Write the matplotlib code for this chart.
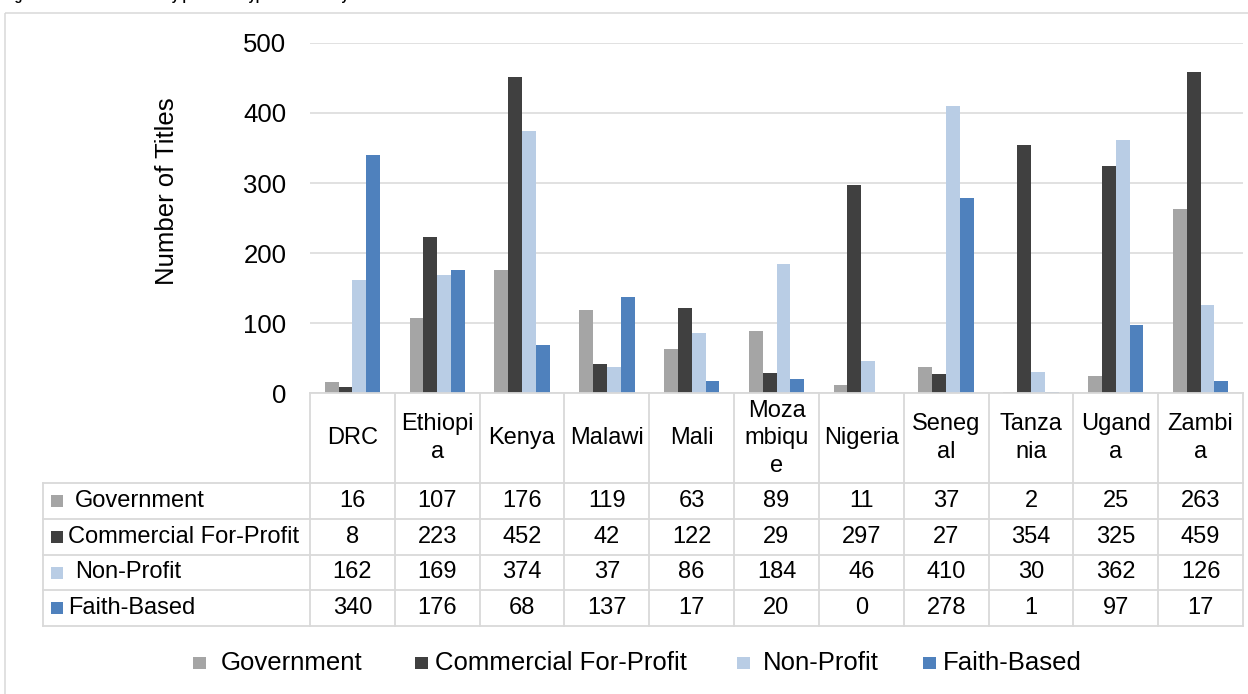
import numpy as np
import matplotlib.pyplot as plt
from matplotlib.patches import Rectangle

plt.rcParams['font.family'] = ['Liberation Sans', 'DejaVu Sans']

# data
countries = ['DRC', 'Ethiopia', 'Kenya', 'Malawi', 'Mali', 'Mozambique',
             'Nigeria', 'Senegal', 'Tanzania', 'Uganda', 'Zambia']
header_labels = ['DRC', 'Ethiopi\na', 'Kenya', 'Malawi', 'Mali', 'Moza\nmbiqu\ne',
                 'Nigeria', 'Seneg\nal', 'Tanza\nnia', 'Ugand\na', 'Zambi\na']
series_names = ['Government', 'Commercial For-Profit', 'Non-Profit', 'Faith-Based']
government = [16, 107, 176, 119, 63, 89, 11, 37, 2, 25, 263]
commercial = [8, 223, 452, 42, 122, 29, 297, 27, 354, 325, 459]
non_profit = [162, 169, 374, 37, 86, 184, 46, 410, 30, 362, 126]
faith_based = [340, 176, 68, 137, 17, 20, 0, 278, 1, 97, 17]
yticks = [0, 100, 200, 300, 400, 500]
title = 'Figure 4: Number of titles by publisher type and country'

series = [government, commercial, non_profit, faith_based]
colors = ['#A5A5A5', '#404040', '#B9CDE5', '#4F81BD']
grid_c = '#D9D9D9'

W, H = 1248, 694
fig = plt.figure(figsize=(W / 100, H / 100), dpi=100)
fig.patch.set_facecolor('white')

# plot area in pixels
px_left, px_right, px_top, px_base = 310, 1243, 43, 393
ax = fig.add_axes([px_left / W, 1 - px_base / H,
                   (px_right - px_left) / W, (px_base - px_top) / H])
n = len(countries)
x = np.arange(n) + 0.5
bw = 0.163
for k, vals in enumerate(series):
    ax.bar(x + (k - 1.5) * bw, vals, width=bw, color=colors[k], linewidth=0, zorder=2)
ax.set_xlim(0, n)
ax.set_ylim(0, 500)
ax.set_yticks(yticks)
ax.set_xticks([])
ax.tick_params(axis='y', length=0, pad=17, labelsize=18.5)
ax.yaxis.grid(True, color=grid_c, linewidth=1.1)
ax.set_axisbelow(True)
for s in ax.spines.values():
    s.set_visible(False)

# overlay in pixel coordinates for table, legend and labels
lay = fig.add_axes([0, 0, 1, 1], zorder=5)
lay.set_xlim(0, W)
lay.set_ylim(H, 0)
lay.axis('off')

lay.add_patch(Rectangle((5, 13), 1400, 900, fill=False, edgecolor=grid_c, linewidth=1.1))
# caption sits above the top edge, only its descenders show
lay.text(3, -0.3, title, fontsize=9.4, fontweight='bold', ha='left', va='baseline')
lay.text(167, 191, 'Number of Titles', rotation=90, fontsize=18.5, ha='center', va='center')

# data table under the axis
col_edges = np.linspace(px_left, px_right, n + 1)
col_mid = (col_edges[:-1] + col_edges[1:]) / 2
row_y = [393, 483, 519, 555, 590, 626]
tab_left = 43
lay.plot([px_left, px_right], [row_y[0], row_y[0]], color=grid_c, lw=1.3)
for yy in row_y[1:]:
    lay.plot([tab_left, px_right], [yy, yy], color=grid_c, lw=1.3)
for xx in col_edges:
    lay.plot([xx, xx], [row_y[0], row_y[-1]], color=grid_c, lw=1.3)
lay.plot([tab_left, tab_left], [row_y[1], row_y[-1]], color=grid_c, lw=1.3)

head_mid = (row_y[0] + row_y[1]) / 2
for i, lab in enumerate(header_labels):
    lines = lab.split('\n')
    for j, line in enumerate(lines):
        yy = head_mid + (j - (len(lines) - 1) / 2) * 27.5
        lay.text(col_mid[i], yy, line, fontsize=17, ha='center', va='center')

label_x = [75, 68, 75, 68]
for k, name in enumerate(series_names):
    yc = (row_y[k + 1] + row_y[k + 2]) / 2
    lay.add_patch(Rectangle((51, yc - 6), 12, 12, color=colors[k], linewidth=0))
    lay.text(label_x[k], yc, name, fontsize=17, ha='left', va='center')
    for i in range(n):
        lay.text(col_mid[i], yc, str(series[k][i]), fontsize=17, ha='center', va='center')

# legend along the bottom
leg_y = 663
leg_mark = [193, 415, 737, 923]
leg_text = [221, 435, 763, 943]
for k, name in enumerate(series_names):
    lay.add_patch(Rectangle((leg_mark[k], leg_y - 6), 13, 12, color=colors[k], linewidth=0))
    lay.text(leg_text[k], leg_y, name, fontsize=18.5, ha='left', va='center')

fig.savefig('out.png', dpi=100)
